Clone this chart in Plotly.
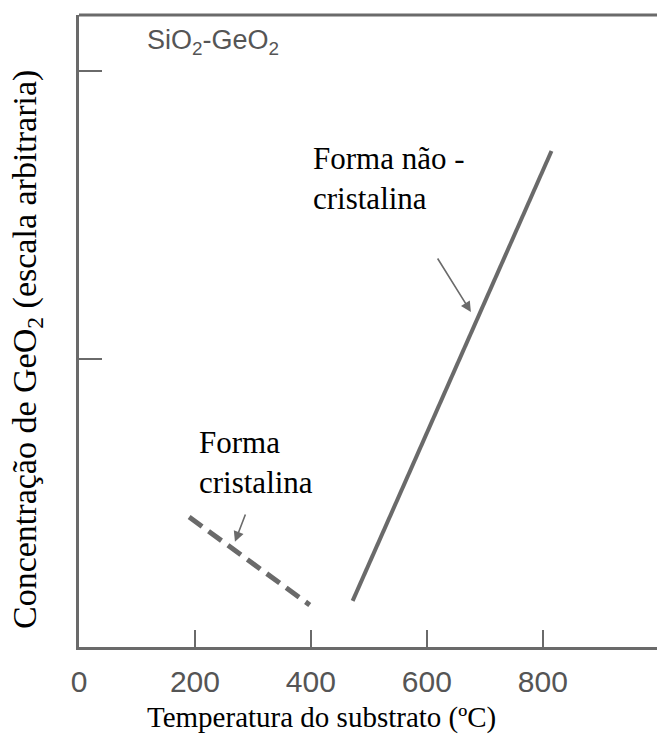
import plotly.graph_objects as go

# Data
temp_crystal = [190, 398]
conc_crystal = [0.451, 0.146]
temp_noncrystal = [472, 815]
conc_noncrystal = [0.160, 1.722]

x_ticks = [0, 200, 400, 600, 800]
x_tick_labels = ["0", "200", "400", "600", "800"]
y_ticks = [1, 2]

GRAY = "#6a6a6a"
SERIF = "Liberation Serif, Times New Roman, serif"
SANS = "Liberation Sans, Arial, sans-serif"

fig = go.Figure()
fig.add_trace(go.Scatter(x=temp_crystal, y=conc_crystal, mode="lines",
                         line=dict(color=GRAY, width=5, dash="16px,8px"),
                         showlegend=False, hoverinfo="skip"))
fig.add_trace(go.Scatter(x=temp_noncrystal, y=conc_noncrystal, mode="lines",
                         line=dict(color=GRAY, width=4),
                         showlegend=False, hoverinfo="skip"))

# arrows
fig.add_annotation(x=676, y=1.163, ax=617, ay=1.354, xref="x", yref="y",
                   axref="x", ayref="y", text="", showarrow=True,
                   arrowhead=2, arrowsize=1.3, arrowwidth=1.6, arrowcolor=GRAY)
fig.add_annotation(x=269, y=0.365, ax=288, ay=0.465, xref="x", yref="y",
                   axref="x", ayref="y", text="", showarrow=True,
                   arrowhead=2, arrowsize=1.3, arrowwidth=1.6, arrowcolor=GRAY)

fig.add_annotation(x=400, y=1.628, xref="x", yref="y", text="Forma não -<br>cristalina",
                   showarrow=False, xanchor="left", yanchor="middle", align="left",
                   font=dict(family=SERIF, size=31, color="#000"))
fig.add_annotation(x=203, y=0.642, xref="x", yref="y", text="Forma<br>cristalina",
                   showarrow=False, xanchor="left", yanchor="middle", align="left",
                   font=dict(family=SERIF, size=31, color="#000"))
fig.add_annotation(x=114, y=2.10, xref="x", yref="y", text="SiO<sub>2</sub>-GeO<sub>2</sub>",
                   showarrow=False, xanchor="left", yanchor="middle",
                   font=dict(family=SANS, size=27, color="#555"))

# axis titles
fig.add_annotation(x=0.420, y=-0.1123, xref="paper", yref="paper",
                   text="Temperatura do substrato (ºC)", showarrow=False,
                   xanchor="center", yanchor="middle",
                   font=dict(family=SERIF, size=29, color="#000"))
fig.add_annotation(x=-0.090, y=0.4715, xref="paper", yref="paper",
                   text="Concentração de GeO<sub>2</sub> (escala arbitraria)",
                   showarrow=False, textangle=-90, xanchor="center", yanchor="middle",
                   font=dict(family=SERIF, size=34, color="#000"))

# top border line
fig.add_shape(type="line", xref="paper", yref="paper", x0=0, x1=1, y0=1, y1=1,
              line=dict(color=GRAY, width=3))

fig.update_layout(
    width=657, height=738,
    margin=dict(l=79, r=0, t=15, b=91, autoexpand=False),
    paper_bgcolor="white", plot_bgcolor="white",
    xaxis=dict(range=[0, 997], tickvals=x_ticks, ticktext=x_tick_labels,
               ticks="inside", ticklen=17, tickwidth=2, tickcolor=GRAY,
               showline=True, linecolor=GRAY, linewidth=3, showgrid=False,
               zeroline=False, automargin=False, ticklabelstandoff=6,
               tickfont=dict(family=SANS, size=30, color="#555")),
    yaxis=dict(range=[0, 2.194], tickvals=y_ticks, showticklabels=False,
               ticks="inside", ticklen=23, tickwidth=2, tickcolor=GRAY,
               showline=True, linecolor=GRAY, linewidth=3, showgrid=False,
               zeroline=False, automargin=False),
)

fig.write_html("out.html", config={"displayModeBar": False},
               post_script="document.body.style.margin='0';document.body.style.overflow='hidden';")
